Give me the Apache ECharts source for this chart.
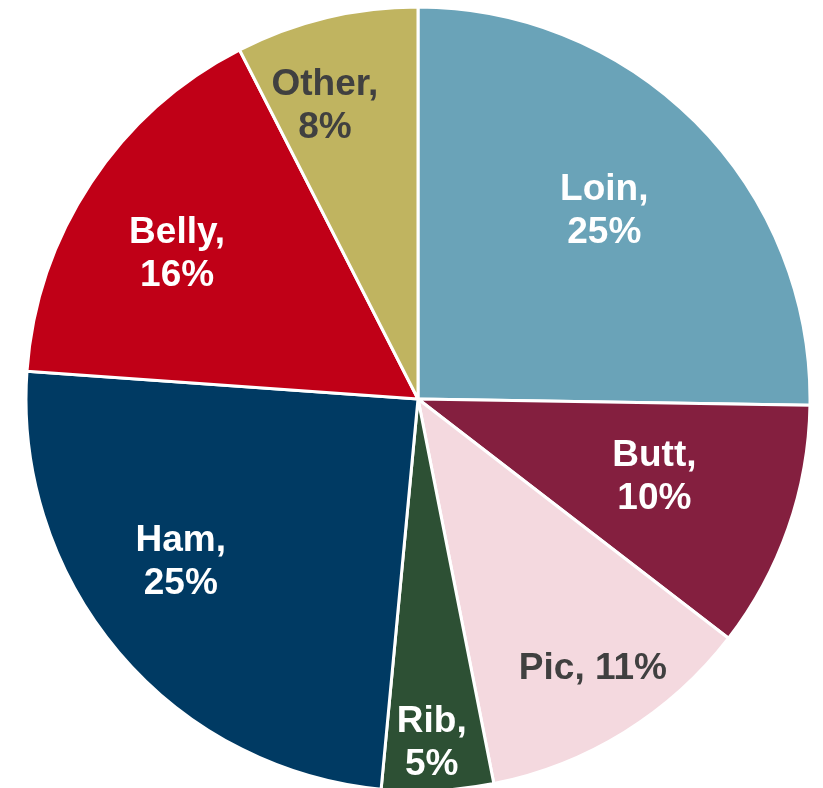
<!DOCTYPE html>
<html>
<head>
<meta charset="utf-8">
<script src="https://cdn.jsdelivr.net/npm/echarts@6/dist/echarts.min.js"></script>
<style>html,body{margin:0;padding:0;background:#fff}#c{width:823px;height:788px}</style>
</head>
<body>
<div id="c"></div>
<script>
const categories = ['Loin', 'Butt', 'Pic', 'Rib', 'Ham', 'Belly', 'Other'];
const values = [25.25, 10.2, 11.45, 4.6, 24.63, 16.35, 7.52];
const colors = ['#6aa3b8', '#841f3f', '#f4d9df', '#2d5034', '#003a63', '#c00017', '#c0b460'];
const labelColors = ['#ffffff', '#ffffff', '#404040', '#ffffff', '#ffffff', '#ffffff', '#404040'];
const labelOneLine = [false, false, true, false, false, false, false];
const labelRadius = [0.675, 0.635, 0.82, 0.88, 0.734, 0.717, 0.784];
const labelAngleShift = [-0.7, -1, -1.2, 0.6, 5.8, -2.5, -4.1];

const CX = 418, CY = 399, R = 392;

const chart = echarts.init(document.getElementById('c'), null, {renderer: 'canvas'});
chart.setOption({
  animation: false,
  series: [{
    type: 'pie',
    center: [CX, CY],
    radius: [0, R],
    startAngle: 90,
    clockwise: true,
    avoidLabelOverlap: false,
    emphasis: {disabled: true},
    itemStyle: {borderColor: '#ffffff', borderWidth: 3},
    label: {
      show: true,
      position: 'inside',
      fontFamily: 'Liberation Sans, Arial, sans-serif',
      fontWeight: 'bold',
      fontSize: 37,
      lineHeight: 43,
      align: 'center',
      formatter: function (p) {
        const pct = Math.round(p.percent) + '%';
        return labelOneLine[p.dataIndex] ? p.name + ', ' + pct : p.name + ',\n' + pct;
      }
    },
    labelLine: {show: false},
    labelLayout: function (p) {
      const r = p.labelRect;
      const ox = r.x + r.width / 2;
      const oy = r.y + r.height / 2;
      const i = p.dataIndex;
      const phi = Math.atan2(oy - CY, ox - CX) + labelAngleShift[i] * Math.PI / 180;
      const nx = CX + labelRadius[i] * R * Math.cos(phi);
      const ny = CY + labelRadius[i] * R * Math.sin(phi);
      return {dx: nx - ox, dy: ny - oy};
    },
    data: categories.map((name, i) => ({
      name: name,
      value: values[i],
      itemStyle: {color: colors[i]},
      label: {color: labelColors[i]}
    }))
  }]
});
</script>
</body>
</html>
